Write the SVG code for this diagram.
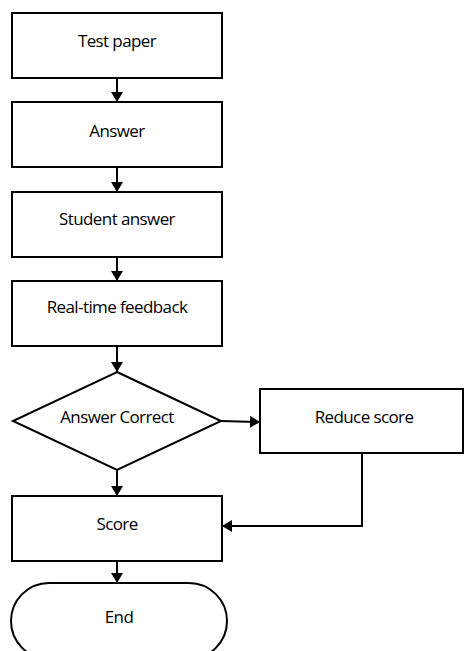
<svg xmlns="http://www.w3.org/2000/svg" width="465" height="651" viewBox="0 0 465 651">
<style>
.s{fill:#fff;stroke:#000;stroke-width:2}
.t{font-family:"Open Sans","Liberation Sans",sans-serif;font-size:17px;fill:#000;text-anchor:middle;letter-spacing:-0.6px}
.c{fill:none;stroke:#000;stroke-width:2}
</style>
<defs>
<marker id="a" markerWidth="10" markerHeight="12" refX="10" refY="6" orient="auto" markerUnits="userSpaceOnUse">
<path d="M0,0 L10,6 L0,12 Z" fill="#000"/>
</marker>
</defs>
<rect width="465" height="651" fill="#fff"/>
<g id="connectors">
<line class="c" x1="117" y1="78" x2="117" y2="102" marker-end="url(#a)"/>
<line class="c" x1="117" y1="167" x2="117" y2="192" marker-end="url(#a)"/>
<line class="c" x1="117" y1="257" x2="117" y2="281" marker-end="url(#a)"/>
<line class="c" x1="117" y1="346" x2="117" y2="372" marker-end="url(#a)"/>
<line class="c" x1="221" y1="421" x2="260" y2="422" marker-end="url(#a)"/>
<line class="c" x1="117" y1="470" x2="117" y2="496" marker-end="url(#a)"/>
<polyline class="c" points="362,453 362,526 222,526" marker-end="url(#a)"/>
<line class="c" x1="117" y1="561" x2="117" y2="583" marker-end="url(#a)"/>
</g>
<g id="test-paper"><rect class="s" x="12" y="13" width="210" height="65"/><text class="t" x="117" y="47">Test paper</text></g>
<g id="answer"><rect class="s" x="12" y="102" width="210" height="65"/><text class="t" x="117" y="137">Answer</text></g>
<g id="student-answer"><rect class="s" x="12" y="192" width="210" height="65"/><text class="t" x="117" y="225">Student answer</text></g>
<g id="feedback"><rect class="s" x="12" y="281" width="210" height="65"/><text class="t" x="117" y="313">Real-time feedback</text></g>
<g id="answer-correct"><polygon class="s" points="117,372 221,421 117,470 13,421"/><text class="t" x="117" y="423">Answer Correct</text></g>
<g id="reduce-score"><rect class="s" x="260" y="389" width="203" height="64"/><text class="t" x="364" y="423">Reduce score</text></g>
<g id="score"><rect class="s" x="12" y="496" width="210" height="65"/><text class="t" x="117" y="530">Score</text></g>
<g id="end"><rect class="s" x="11" y="583" width="216" height="76" rx="38" ry="38"/><text class="t" x="119" y="623">End</text></g>
</svg>
